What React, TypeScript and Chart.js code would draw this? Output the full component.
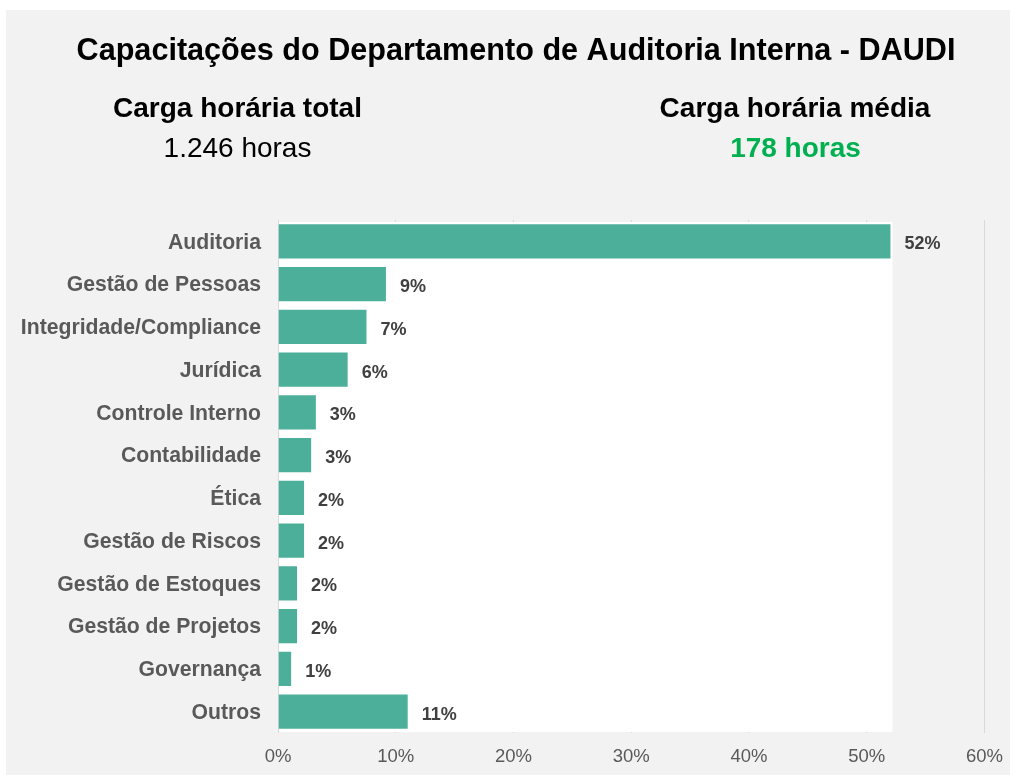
import React, { useEffect, useRef } from "react";
import { Chart, registerables } from "chart.js";

Chart.register(...registerables);

const titleText = "Capacitações do Departamento de Auditoria Interna - DAUDI";
const summaryLabels = ["Carga horária total", "Carga horária média"];
const summaryValues = ["1.246 horas", "178 horas"];

const categories = [
  "Auditoria",
  "Gestão de Pessoas",
  "Integridade/Compliance",
  "Jurídica",
  "Controle Interno",
  "Contabilidade",
  "Ética",
  "Gestão de Riscos",
  "Gestão de Estoques",
  "Gestão de Projetos",
  "Governança",
  "Outros",
];
const shares = [52.1, 9.25, 7.6, 6.0, 3.3, 2.9, 2.3, 2.3, 1.7, 1.7, 1.2, 11.1];
const shareLabels = ["52%", "9%", "7%", "6%", "3%", "3%", "2%", "2%", "2%", "2%", "1%", "11%"];
const xTickValues = [0, 10, 20, 30, 40, 50, 60];

const FONT = '"Liberation Sans", Arial, Helvetica, sans-serif';
const W = 1016;
const H = 775;

const backgroundPlugin = {
  id: "bgPanel",
  beforeDraw(chart: any) {
    const ctx = chart.ctx;
    ctx.save();
    ctx.fillStyle = "#ffffff";
    ctx.fillRect(0, 0, W, H);
    ctx.fillStyle = "#f2f2f2";
    ctx.fillRect(6, 10, 1004, 765);
    ctx.restore();
  },
  beforeDatasetsDraw(chart: any) {
    const ctx = chart.ctx;
    const xs = chart.scales.x;
    const area = chart.chartArea;
    const maxV = Math.max(...shares);
    const x0 = xs.getPixelForValue(0) + 1;
    const x1 = xs.getPixelForValue(maxV) + 1;
    ctx.save();
    ctx.fillStyle = "#ffffff";
    ctx.fillRect(x0, area.top + 2, x1 - x0, area.bottom - area.top - 3);
    ctx.restore();
  },
  afterDraw(chart: any) {
    const ctx = chart.ctx;
    ctx.save();
    ctx.textBaseline = "alphabetic";
    ctx.textAlign = "center";
    ctx.fillStyle = "#000000";
    ctx.font = `bold 30.6px ${FONT}`;
    ctx.fillText(titleText, 516, 60);
    ctx.font = `bold 28px ${FONT}`;
    ctx.fillText(summaryLabels[0], 237.5, 117);
    ctx.fillText(summaryLabels[1], 795, 117);
    ctx.font = `28px ${FONT}`;
    ctx.fillText(summaryValues[0], 237.5, 157);
    ctx.font = `bold 28px ${FONT}`;
    ctx.fillStyle = "#00b050";
    ctx.fillText(summaryValues[1], 795.5, 157);
    ctx.restore();
  },
};

const dataLabelPlugin = {
  id: "barLabels",
  afterDatasetsDraw(chart: any) {
    const ctx = chart.ctx;
    const meta = chart.getDatasetMeta(0);
    ctx.save();
    ctx.font = `bold 18px ${FONT}`;
    ctx.fillStyle = "#404040";
    ctx.textAlign = "left";
    ctx.textBaseline = "middle";
    meta.data.forEach((bar: any, i: number) => {
      ctx.fillText(shareLabels[i], bar.x + 13, bar.y + 3);
    });
    ctx.restore();
  },
};

export default function App() {
  const ref = useRef<HTMLCanvasElement | null>(null);

  useEffect(() => {
    if (!ref.current) return;
    const chart = new Chart(ref.current, {
      type: "bar",
      data: {
        labels: categories,
        datasets: [
          {
            data: shares,
            backgroundColor: "#4caf9a",
            borderColor: "rgba(255,255,255,0.45)",
            borderWidth: 1,
            barPercentage: 0.845,
            categoryPercentage: 1,
          },
        ],
      },
      options: {
        indexAxis: "y",
        responsive: false,
        animation: false,
        layout: { padding: { left: 0, right: 31, top: 220, bottom: 0 } },
        plugins: {
          legend: { display: false },
          tooltip: { enabled: false },
          title: { display: false },
        },
        scales: {
          x: {
            min: 0,
            max: 60,
            afterBuildTicks(scale: any) {
              scale.ticks = xTickValues.map((v) => ({ value: v }));
            },
            afterFit(scale: any) {
              scale.height = 42;
            },
            grid: { color: "#d9d9d9", lineWidth: 1, drawTicks: false },
            border: { display: false },
            ticks: {
              padding: 13,
              color: "#595959",
              font: { family: FONT, size: 18.5 },
              callback: (v: any) => `${v}%`,
            },
          },
          y: {
            afterFit(scale: any) {
              scale.width = 278;
            },
            grid: { display: false, drawTicks: false },
            border: { display: false },
            ticks: {
              padding: 17,
              labelOffset: 1.5,
              color: "#595959",
              font: { family: FONT, size: 21.2, weight: "bold" },
            },
          },
        },
      },
      plugins: [backgroundPlugin, dataLabelPlugin],
    });
    return () => chart.destroy();
  }, []);

  return (
    <div style={{ position: "absolute", left: 0, top: 0, width: W, height: H }}>
      <canvas ref={ref} width={W} height={H} style={{ display: "block" }} />
    </div>
  );
}
